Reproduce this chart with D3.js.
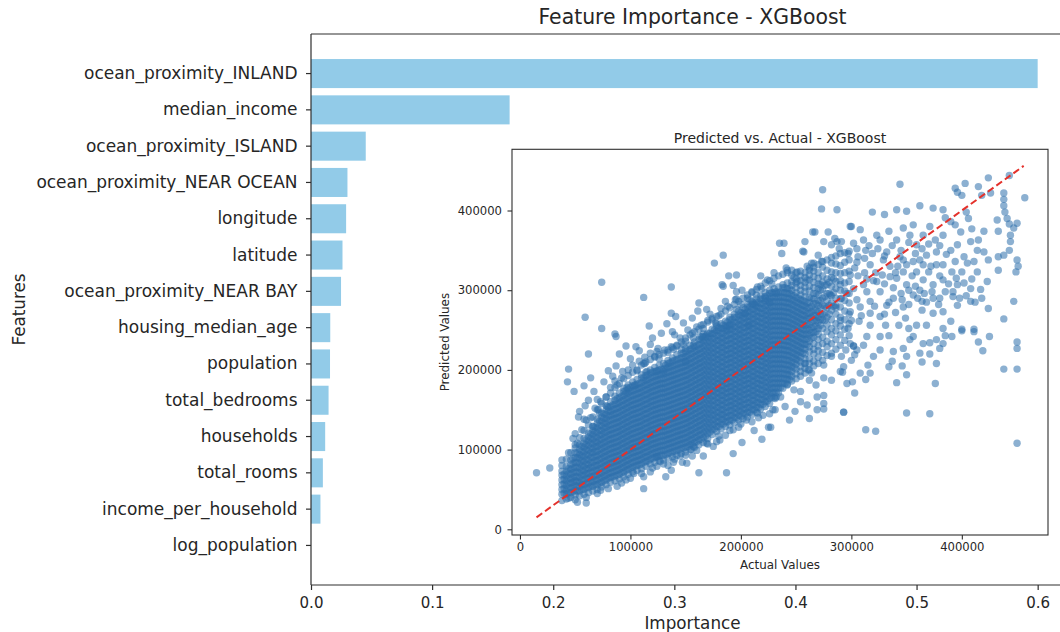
<!DOCTYPE html>
<html>
<head>
<meta charset="utf-8">
<script src="https://cdn.jsdelivr.net/npm/d3@7"></script>
<style>
  html, body { margin: 0; padding: 0; background: #ffffff; }
  svg { display: block; }
  text { font-family: "DejaVu Sans", sans-serif; fill: #262626; }
</style>
</head>
<body>
<svg id="chart" width="1060" height="632"></svg>
<script>
// ---------------- DATA ----------------
const features = [
  "ocean_proximity_INLAND", "median_income", "ocean_proximity_ISLAND",
  "ocean_proximity_NEAR OCEAN", "longitude", "latitude", "ocean_proximity_NEAR BAY",
  "housing_median_age", "population", "total_bedrooms", "households",
  "total_rooms", "income_per_household", "log_population"
];
const importances = [0.600, 0.164, 0.0452, 0.0301, 0.0290, 0.0260, 0.0248,
  0.0159, 0.0157, 0.0145, 0.0117, 0.0098, 0.0078, 0.0];
const importanceTicks = [0.0, 0.1, 0.2, 0.3, 0.4, 0.5, 0.6];

const mainTitle = "Feature Importance - XGBoost";
const mainXLabel = "Importance";
const mainYLabel = "Features";
const insetTitle = "Predicted vs. Actual - XGBoost";
const insetXLabel = "Actual Values";
const insetYLabel = "Predicted Values";

// scatter values in thousands of dollars
const valueTicksK = [0, 100, 200, 300, 400];
const valueTickLabels = ["0", "100000", "200000", "300000", "400000"];
const diagonalK = [15, 456];

// dense core: [actual, [predicted...]]
const coreColumnsK = [
  [38, [36,44,50,56,62,68,73,80]],
  [42, [38,44,49,55,61,67,73,79,88]],
  [46, [40,46,52,58,63,69,75,81,87,96]],
  [50, [37,43,49,55,61,66,72,78,84,90,96,106,120]],
  [54, [42,48,54,59,65,71,77,83,89,94,100,106,115]],
  [58, [44,50,56,62,68,73,79,85,91,97,103,108,114,124,138]],
  [62, [46,52,58,64,70,76,81,87,93,99,105,111,116,121,131]],
  [66, [48,54,60,66,72,78,84,90,96,101,107,113,119,124,129,141]],
  [70, [50,56,62,68,74,80,86,92,98,104,109,115,121,127,133,138,150]],
  [74, [53,59,65,71,77,83,89,95,101,107,113,119,124,130,136,141,146,158]],
  [78, [56,62,68,74,80,86,92,98,104,110,116,122,128,133,139,144,150,155,166]],
  [82, [59,65,71,77,83,89,95,101,107,113,119,125,131,137,143,148,154,160,171]],
  [86, [61,67,73,79,85,91,97,103,109,115,121,127,133,139,145,151,157,162,167,178]],
  [90, [63,69,75,81,87,93,99,105,111,117,123,129,135,141,147,153,159,165,171,183]],
  [94, [66,72,78,84,90,96,102,108,114,120,126,132,138,144,150,156,162,168,173,177,189]],
  [98, [69,75,81,87,93,99,105,111,117,123,129,135,141,147,153,159,165,171,176,181,193]],
  [102, [72,78,84,90,96,102,108,114,120,126,132,138,144,150,156,162,168,174,180,185,197]],
  [106, [74,80,86,92,98,104,110,116,122,128,134,140,146,152,158,164,170,176,182,188,200]],
  [110, [76,82,88,94,100,106,112,118,124,130,136,142,148,154,160,166,172,178,184,190,194,206]],
  [114, [79,85,91,97,103,109,115,121,127,133,139,145,151,157,163,169,175,181,187,193,197,210]],
  [118, [82,88,94,100,106,112,118,124,130,136,142,148,154,160,166,172,178,184,190,196,200,213]],
  [122, [84,90,96,102,108,114,120,126,132,138,144,150,156,162,168,174,180,186,192,198,203,216]],
  [126, [86,92,98,104,110,116,122,128,134,140,146,152,158,164,170,176,182,188,194,200,206,219]],
  [130, [87,93,99,105,111,117,123,129,135,141,147,153,159,165,171,177,183,189,195,201,208,221]],
  [134, [89,95,101,107,113,119,125,131,137,143,149,155,161,167,173,179,185,191,197,203,208,212,225]],
  [138, [91,97,103,109,115,121,127,133,139,145,151,157,163,169,175,181,187,193,199,205,211,215,228]],
  [142, [93,99,105,111,117,123,129,135,141,147,153,159,165,171,177,183,189,195,201,207,213,219,231]],
  [146, [95,101,107,113,119,125,131,137,143,149,155,161,167,173,179,185,191,197,203,209,215,221,235]],
  [150, [97,103,109,115,121,127,133,139,145,151,157,163,169,175,181,187,193,199,205,211,217,223,227,240]],
  [154, [100,106,112,118,124,130,136,142,148,154,160,166,172,178,184,190,196,202,208,214,220,226,231,244]],
  [158, [103,109,115,121,127,133,139,145,151,157,163,169,175,181,187,193,199,205,211,217,223,229,235,248]],
  [162, [106,112,118,124,130,136,142,148,154,160,166,172,178,184,190,196,202,208,214,220,226,232,238,251]],
  [166, [109,115,121,127,133,139,145,151,157,163,169,175,181,187,193,199,205,211,217,223,229,235,241,245,257]],
  [170, [114,120,126,132,138,144,150,156,162,168,174,180,186,192,198,204,210,216,222,228,234,240,246,260]],
  [174, [119,125,131,137,143,149,155,161,167,173,179,185,191,197,203,209,215,221,227,233,239,245,251,263]],
  [178, [123,129,135,141,147,153,159,165,171,177,183,189,195,201,207,213,219,225,231,237,243,249,255,267]],
  [182, [126,132,138,144,150,156,162,168,174,180,186,192,198,204,210,216,222,228,234,240,246,252,258,270]],
  [186, [129,135,141,147,153,159,165,171,177,183,189,195,201,207,213,219,225,231,237,243,249,255,261,274]],
  [190, [131,137,143,149,155,161,167,173,179,185,191,197,203,209,215,221,227,233,239,245,251,257,263,266,278]],
  [194, [134,140,146,152,158,164,170,176,182,188,194,200,206,212,218,224,230,236,242,248,254,260,266,270,282]],
  [198, [137,143,149,155,161,167,173,179,185,191,197,203,209,215,221,227,233,239,245,251,257,263,269,274,286]],
  [202, [139,145,151,157,163,169,175,181,187,193,199,205,211,217,223,229,235,241,247,253,259,265,271,278,290]],
  [206, [141,147,153,159,165,171,177,183,189,195,201,207,213,219,225,231,237,243,249,255,261,267,273,279,282,294]],
  [210, [144,150,156,162,168,174,180,186,192,198,204,210,216,222,228,234,240,246,252,258,264,270,276,282,286,297]],
  [214, [147,153,159,165,171,177,183,189,195,201,207,213,219,225,231,237,243,249,255,261,267,273,279,285,289,301]],
  [218, [151,157,163,169,175,181,187,193,199,205,211,217,223,229,235,241,247,253,259,265,271,277,283,289,293,305]],
  [222, [154,160,166,172,178,184,190,196,202,208,214,220,226,232,238,244,250,256,262,268,274,280,286,292,297,309]],
  [226, [158,164,170,176,182,188,194,200,206,212,218,224,230,236,242,248,254,260,266,272,278,284,290,296,300,312]],
  [230, [165,171,177,183,189,195,201,207,213,219,225,231,237,243,249,255,261,267,273,279,285,291,297,302,315]],
  [234, [171,177,183,189,195,201,207,213,219,225,231,237,243,249,255,261,267,273,279,285,291,297,304,318]],
  [238, [177,183,189,195,201,207,213,219,225,231,237,243,249,255,261,267,273,279,285,291,297,303,307,320]],
  [242, [182,188,194,200,206,212,218,224,230,236,242,248,254,260,266,272,278,284,290,296,302,309,322]],
  [246, [186,192,198,204,210,216,222,228,234,240,246,252,258,264,270,276,282,288,294,300,306,311,325]],
  [250, [189,195,201,207,213,219,225,231,237,243,249,255,261,267,273,279,285,291,297,303,309,314]],
  [254, [192,198,204,210,216,222,228,234,240,246,252,258,264,270,276,282,288,294,300,306,312,318]],
  [258, [196,202,208,214,220,226,232,238,244,250,256,262,268,274,280,286,292,298,304,310,316,322]],
  [262, [200,208,214,223,229,236,244,250,257,265,271,278,285,291,299,305,313,319,325]],
  [266, [205,211,220,226,233,241,247,254,262,268,275,283,289,296,303,310,317,324,329]],
  [270, [208,216,224,230,238,245,252,260,266,273,281,287,294,302,308,315,322,332]],
  [274, [212,222,233,241,252,263,270,281,290,301,310,318,329,336]],
  [278, [218,229,236,248,257,266,278,287,296,307,314,325,338]],
  [282, [221,233,244,252,263,275,284,293,305,316,323,334,341]],
  [286, [226,238,249,258,270,281,290,302,311,322,333,343]],
  [290, [231,244,255,266,279,289,300,312,321,331,346]],
  [294, [237,251,263,274,287,299,309,322,335,347]],
  [298, [243,258,270,284,296,311,324,338,349]]
];

// inner part of the band, between the columns above
const innerColumnsK = [
  [40, [45,51,57,63,69]],
  [44, [46,52,58,64,70,76]],
  [48, [47,53,59,65,71,77,83,89]],
  [52, [48,54,60,66,72,78,84,90,96]],
  [56, [50,56,62,68,74,80,86,92,98,104]],
  [60, [52,58,64,70,76,82,88,94,100,106,112]],
  [64, [54,60,66,72,78,84,90,96,102,108,114,120]],
  [68, [56,62,68,74,80,86,92,98,104,110,116,122,128]],
  [72, [58,64,70,76,82,88,94,100,106,112,118,124,130,136]],
  [76, [61,67,73,79,85,91,97,103,109,115,121,127,133,139,145]],
  [80, [64,70,76,82,88,94,100,106,112,118,124,130,136,142,148,153]],
  [84, [66,72,78,84,90,96,102,108,114,120,126,132,138,144,150,156]],
  [88, [68,74,80,86,92,98,104,110,116,122,128,134,140,146,152,158,164]],
  [92, [71,77,83,89,95,101,107,113,119,125,131,137,143,149,155,161,167]],
  [96, [74,80,86,92,98,104,110,116,122,128,134,140,146,152,158,164,170,174]],
  [100, [77,83,89,95,101,107,113,119,125,131,137,143,149,155,161,167,173,178]],
  [104, [79,85,91,97,103,109,115,121,127,133,139,145,151,157,163,169,175,181]],
  [108, [81,87,93,99,105,111,117,123,129,135,141,147,153,159,165,171,177,183]],
  [112, [84,90,96,102,108,114,120,126,132,138,144,150,156,162,168,174,180,186,190]],
  [116, [86,92,98,104,110,116,122,128,134,140,146,152,158,164,170,176,182,188,194]],
  [120, [89,95,101,107,113,119,125,131,137,143,149,155,161,167,173,179,185,191,197]],
  [124, [91,97,103,109,115,121,127,133,139,145,151,157,163,169,175,181,187,193,199]],
  [128, [93,99,105,111,117,123,129,135,141,147,153,159,165,171,177,183,189,195,201]],
  [132, [94,100,106,112,118,124,130,136,142,148,154,160,166,172,178,184,190,196,202,206]],
  [136, [96,102,108,114,120,126,132,138,144,150,156,162,168,174,180,186,192,198,204,209]],
  [140, [98,104,110,116,122,128,134,140,146,152,158,164,170,176,182,188,194,200,206,212]],
  [144, [100,106,112,118,124,130,136,142,148,154,160,166,172,178,184,190,196,202,208,214]],
  [148, [102,108,114,120,126,132,138,144,150,156,162,168,174,180,186,192,198,204,210,216,221]],
  [152, [104,110,116,122,128,134,140,146,152,158,164,170,176,182,188,194,200,206,212,218,224]],
  [156, [107,113,119,125,131,137,143,149,155,161,167,173,179,185,191,197,203,209,215,221,227]],
  [160, [110,116,122,128,134,140,146,152,158,164,170,176,182,188,194,200,206,212,218,224,230]],
  [164, [113,119,125,131,137,143,149,155,161,167,173,179,185,191,197,203,209,215,221,227,233,238]],
  [168, [117,123,129,135,141,147,153,159,165,171,177,183,189,195,201,207,213,219,225,231,237,242]],
  [172, [122,128,134,140,146,152,158,164,170,176,182,188,194,200,206,212,218,224,230,236,242,246]],
  [176, [126,132,138,144,150,156,162,168,174,180,186,192,198,204,210,216,222,228,234,240,246,250]],
  [180, [129,135,141,147,153,159,165,171,177,183,189,195,201,207,213,219,225,231,237,243,249,253]],
  [184, [132,138,144,150,156,162,168,174,180,186,192,198,204,210,216,222,228,234,240,246,252,256]],
  [188, [135,141,147,153,159,165,171,177,183,189,195,201,207,213,219,225,231,237,243,249,255,260]],
  [192, [137,143,149,155,161,167,173,179,185,191,197,203,209,215,221,227,233,239,245,251,257,263]],
  [196, [140,146,152,158,164,170,176,182,188,194,200,206,212,218,224,230,236,242,248,254,260,266]],
  [200, [142,148,154,160,166,172,178,184,190,196,202,208,214,220,226,232,238,244,250,256,262,268,272]],
  [204, [145,151,157,163,169,175,181,187,193,199,205,211,217,223,229,235,241,247,253,259,265,271,276]],
  [208, [147,153,159,165,171,177,183,189,195,201,207,213,219,225,231,237,243,249,255,261,267,273,279]],
  [212, [150,156,162,168,174,180,186,192,198,204,210,216,222,228,234,240,246,252,258,264,270,276,282]],
  [216, [153,159,165,171,177,183,189,195,201,207,213,219,225,231,237,243,249,255,261,267,273,279,285]],
  [220, [157,163,169,175,181,187,193,199,205,211,217,223,229,235,241,247,253,259,265,271,277,283,289]],
  [224, [161,167,173,179,185,191,197,203,209,215,221,227,233,239,245,251,257,263,269,275,281,287,293]],
  [228, [166,172,178,184,190,196,202,208,214,220,226,232,238,244,250,256,262,268,274,280,286,292,297]],
  [232, [172,178,184,190,196,202,208,214,220,226,232,238,244,250,256,262,268,274,280,286,292,298]],
  [236, [178,184,190,196,202,208,214,220,226,232,238,244,250,256,262,268,274,280,286,292,298]],
  [240, [183,189,195,201,207,213,219,225,231,237,243,249,255,261,267,273,279,285,291,297,303]],
  [244, [188,194,200,206,212,218,224,230,236,242,248,254,260,266,272,278,284,290,296,302]],
  [248, [203,209,215,221,227,233,239,245,251,257,263,269,275,281,287,293]],
  [252, [212,218,224,230,236,242,248,254,260,266,272,278,284,290]],
  [256, [221,227,233,239,245,251,257,263,269,275,281,287]],
  [260, [232,239,245,252,258,265,271,278,284]],
  [264, [240,247,253,260,266,273,280,290]],
  [268, [248,255,262,268,275,283,296]],
  [272, [256,263,270,278,287,300]],
  [276, [262,271,280,292,306]],
  [280, [270,281,296,310]],
  [284, [280,297,314]]
];

// points above the dense band, actual < 300k
const upperPointsK = [
  [74,310],[137,304],[112,291],[184,344],[176,334],[189,318],[196,319],[184,305],[193,306],
  [196,298],[162,284],[169,276],[182,277],[196,289],[210,298],[215,304],[219,302],[224,313],
  [235,359],[59,266],[74,252],[86,245],[117,255],[137,271],[141,267],[138,248],[156,265],
  [161,274],[174,265],[178,258],[160,254],[166,252],[187,252],[190,255],[207,256],[211,284],
  [214,294],[62,220],[44,201],[43,185],[49,173],[67,173],[62,162],[59,155],[53,141],[71,150],
  [79,154],[87,242],[105,229],[108,224],[87,205],[80,199],[106,199],[97,178],[104,180],[112,208],
  [115,198],[48,114],[50,102],[38,87],[44,96],[124,198],[130,198],[124,223],[131,225],[137,229],
  [140,244],[150,210],[157,231],[163,242],[169,244],[88,181],[54,148],[52,108],[56,125],[60,137],
  [66,129],[72,146],[195,288],[183,307],[177,259],[165,242],[157,240],[125,227],[139,226],
  [122,217],[113,208],[145,240],[148,232],[208,288],[222,290],[200,282],[213,281],[239,359],
  [237,346],[242,325],[246,319],[250,322],[257,348],[258,361],[267,373],[275,361],[282,357],
  [285,365],[291,361],[299,380],[289,352],[273,336],[266,334],[262,328],[270,344],[241,328],
  [251,323],[264,334],[256,349],[265,373],[279,373],[287,361],[274,426],[273,402],[287,401],
  [204,270],[226,285],[232,296],[228,308],[152,250],[146,226],[118,232],[100,214],[93,198],
  [76,185],[70,163],[84,192],[120,240],[128,246],[133,258],[148,259],[170,262],[186,286],
  [201,300],[218,318],[230,322],[90,220],[96,230],[64,190],[58,180],
  [64,140],[68,152],[73,160],[78,166],[82,178],[86,186],[92,190],[98,200],[102,206],[108,211],
  [113,216],[118,221],[126,214],[134,222],[142,230],[150,236],[156,246],[164,256],[172,270],
  [180,268],[188,280],[196,276],[206,290],[248,316],[254,324],[260,330]
];

// points below the dense band, actual < 320k
const lowerPointsK = [
  [15,71],[27,77],[52,34],[60,33],[132,66],[112,51],[147,84],[156,92],[162,71],[187,71],
  [193,95],[201,109],[219,113],[225,128],[212,124],[166,92],[127,85],[112,66],[103,70],
  [124,79],[139,84],[145,92],[137,74],[205,137],[220,143],[229,150],[231,164],[175,104],
  [181,112],[169,108],[193,125],[151,83],[157,104],[124,91],[88,54],[73,49],[44,39],[96,62],
  [118,72],[155,100],[186,118],[198,128],[210,135],[226,145],[216,140],[178,110],[134,80],
  [227,128],[231,150],[232,166],[240,154],[244,137],[249,148],[254,160],[260,156],[262,139],
  [269,150],[269,166],[275,151],[275,158],[275,168],[254,173],[268,181],[275,190],[282,187],
  [290,198],[293,204],[301,185],[303,171],[313,188],[315,206],[293,147],[248,175],[242,181],
  [262,187],[261,200],[264,196],[258,208],[275,206],[282,217],[291,217],[303,219],[295,225],
  [299,233],[302,230],[311,231],[305,225],[292,197],[300,212],[296,183],[308,196],[317,196],
  [320,217],[60,40],[70,45],[80,51],[92,58],[100,64],[110,70],[120,77],[130,82],[140,88],
  [150,93],[160,99],[170,107],[180,117],[190,124],[200,132],[215,146],[236,166]
];

// spread of points for actual >= 300k
const highPointsK = [
  [344,433],[394,428],[396,423],[403,434],[400,419],[415,430],[418,419],[424,441],[426,422],
  [443,444],[457,416],[438,422],[438,414],[438,406],[439,398],[441,390],[443,383],[450,384],
  [447,378],[432,388],[433,374],[444,369],[444,361],[443,350],[438,344],[450,338],[451,330],
  [449,323],[433,342],[433,325],[447,286],[424,277],[438,264],[417,301],[409,314],[402,309],
  [400,251],[411,251],[300,380],[319,398],[330,395],[341,401],[350,399],[362,406],[374,403],
  [383,401],[385,391],[404,398],[406,390],[394,382],[399,373],[409,377],[420,374],[415,363],
  [420,348],[424,338],[414,350],[411,336],[402,342],[394,336],[391,323],[383,313],[374,307],
  [365,313],[385,298],[374,290],[364,286],[356,294],[350,307],[341,315],[359,256],[374,271],
  [349,265],[343,256],[331,256],[326,267],[317,271],[308,279],[307,261],[297,252],[371,380],
  [365,369],[376,363],[377,348],[368,344],[359,357],[353,369],[356,382],[347,378],[341,363],
  [334,374],[326,363],[332,348],[344,342],[350,332],[335,330],[328,319],[317,332],[319,346],
  [311,363],[308,376],[323,369],[297,346],[302,359],[450,108],[313,125],[322,123],[350,146],
  [371,145],[293,147],[438,201],[450,201],[450,227],[450,235],[419,224],[415,235],[425,242],
  [411,248],[376,183],[350,194],[341,184],[346,205],[334,204],[337,211],[338,223],[326,225],
  [350,217],[347,227],[353,238],[362,221],[371,220],[371,234],[377,238],[380,227],[385,243],
  [302,230],[334,243],[326,242],[314,242],[400,249],[356,242],[365,233],[383,233],[391,242],
  [364,210],[377,208],[364,275],[383,273],[390,261],[408,286],[396,281],[383,252],[368,256],
  [352,252],[317,256],[299,273],[291,290],[281,294],[272,307],[260,313],[251,311],[302,302],
  [314,298],[326,298],[338,290],[347,279],[332,281],[317,286],[305,288],[290,307],[299,319],
  [311,307],[323,311],[335,317],[347,323],[359,323],[365,332],[356,336],[370,323],[377,332],
  [383,332],[390,350],[396,357],[383,369],[390,386],[408,361],[400,323],[405,334],[414,323],
  [423,311],[408,302],[396,307],[305,335],[312,322],[320,312],[338,303],[345,296],[362,300],
  [368,285],[379,282],[392,292],[355,318],[329,338],[342,330],[313,350],[306,342],[303,328],
  [321,280],[330,270],[340,272],[352,282],[296,296],[309,268],[300,262],[286,278],[290,262],
  [305,352],[312,340],[316,356],[324,352],[330,343],[337,356],[345,350],[352,360],[358,346],
  [364,352],[370,358],[380,356],[386,345],[362,338],[372,330],[380,318],[388,308],[395,315],
  [360,290],[352,300],[330,308],[322,322],[314,314],[306,318],[340,322],[347,338],[334,285],
  [346,288],[358,305],[366,296],[373,298],[380,290],[392,298],[398,290],[404,293],[412,285],
  [418,290]
];

// ---------------- CHART ----------------
const svg = d3.select("#chart");
const ink = "#262626";
const spine = "#2e2e2e";

// main axes geometry
const mainLeft = 311, mainTop = 34, mainBottom = 585, mainRight = 1074;
const x = d3.scaleLinear().domain([0, 0.63]).range([mainLeft, mainRight]);
const y = d3.scaleBand().domain(features).range([mainTop, mainBottom])
  .paddingInner(0.2).paddingOuter(0.69);

const main = svg.append("g");

main.selectAll("rect.bar")
  .data(features)
  .join("rect")
  .attr("class", "bar")
  .attr("x", x(0))
  .attr("y", d => y(d))
  .attr("width", (d, i) => x(importances[i]) - x(0))
  .attr("height", y.bandwidth())
  .attr("fill", "#92cbe8");

// x axis
const xAxis = main.append("g")
  .attr("transform", `translate(0,${mainBottom})`)
  .call(d3.axisBottom(x).tickValues(importanceTicks).tickFormat(d3.format(".1f"))
    .tickSize(5).tickSizeOuter(0).tickPadding(7));
xAxis.select(".domain").remove();
xAxis.selectAll(".tick line").attr("stroke", spine).attr("stroke-width", 1.2);
xAxis.selectAll(".tick text").attr("font-size", "15px").attr("fill", ink)
  .style("font-family", "DejaVu Sans");

// y axis
const yAxis = main.append("g")
  .attr("transform", `translate(${mainLeft},0)`)
  .call(d3.axisLeft(y).tickSize(5).tickSizeOuter(0).tickPadding(8.5));
yAxis.select(".domain").remove();
yAxis.selectAll(".tick line").attr("stroke", spine).attr("stroke-width", 1.2);
yAxis.selectAll(".tick text").attr("font-size", "17px").attr("fill", ink)
  .style("font-family", "DejaVu Sans");

// spines
main.append("line").attr("x1", mainLeft).attr("x2", mainLeft).attr("y1", mainTop).attr("y2", mainBottom)
  .attr("stroke", spine).attr("stroke-width", 1.2);
main.append("line").attr("x1", mainLeft).attr("x2", mainRight).attr("y1", mainBottom).attr("y2", mainBottom)
  .attr("stroke", spine).attr("stroke-width", 1.2);
main.append("line").attr("x1", mainLeft).attr("x2", mainRight).attr("y1", mainTop).attr("y2", mainTop)
  .attr("stroke", spine).attr("stroke-width", 1.2);

// titles / labels
svg.append("text").attr("x", (mainLeft + mainRight) / 2).attr("y", 24)
  .attr("text-anchor", "middle").attr("font-size", "20.4px").text(mainTitle);
svg.append("text").attr("x", (mainLeft + mainRight) / 2).attr("y", 629)
  .attr("text-anchor", "middle").attr("font-size", "16.8px").text(mainXLabel);
svg.append("text").attr("transform", `translate(25,${(mainTop + mainBottom) / 2}) rotate(-90)`)
  .attr("text-anchor", "middle").attr("font-size", "16.8px").text(mainYLabel);

// ---------------- INSET ----------------
const inL = 512, inR = 1048, inT = 149.3, inB = 535;
const sx = d3.scaleLinear().domain([-7.2, 478]).range([inL, inR]);
const sy = d3.scaleLinear().domain([-7.15, 476.8]).range([inB, inT]);

const inset = svg.append("g");
inset.append("rect").attr("x", inL).attr("y", inT).attr("width", inR - inL).attr("height", inB - inT)
  .attr("fill", "#ffffff");

inset.append("clipPath").attr("id", "insetClip")
  .append("rect").attr("x", inL).attr("y", inT).attr("width", inR - inL).attr("height", inB - inT);

const points = [];
coreColumnsK.forEach(([a, preds]) => preds.forEach(p => points.push([a, p])));
innerColumnsK.forEach(([a, preds]) => preds.forEach(p => points.push([a, p])));
upperPointsK.forEach(p => points.push(p));
lowerPointsK.forEach(p => points.push(p));
highPointsK.forEach(p => points.push(p));

const plot = inset.append("g").attr("clip-path", "url(#insetClip)");
plot.selectAll("circle")
  .data(points)
  .join("circle")
  .attr("cx", d => sx(d[0]))
  .attr("cy", d => sy(d[1]))
  .attr("r", 3.7)
  .attr("fill", "#2d70ac")
  .attr("fill-opacity", 0.55);

plot.append("line")
  .attr("x1", sx(diagonalK[0])).attr("y1", sy(diagonalK[0]))
  .attr("x2", sx(diagonalK[1])).attr("y2", sy(diagonalK[1]))
  .attr("stroke", "#e4312b").attr("stroke-width", 2)
  .attr("stroke-dasharray", "7,3.5");

const sxAxis = inset.append("g").attr("transform", `translate(0,${inB})`)
  .call(d3.axisBottom(sx).tickValues(valueTicksK).tickFormat((d, i) => valueTickLabels[i])
    .tickSize(4.5).tickSizeOuter(0).tickPadding(3.5));
sxAxis.select(".domain").remove();
sxAxis.selectAll(".tick line").attr("stroke", spine).attr("stroke-width", 1.1);
sxAxis.selectAll(".tick text").attr("font-size", "11.6px").attr("fill", ink)
  .style("font-family", "DejaVu Sans");

const syAxis = inset.append("g").attr("transform", `translate(${inL},0)`)
  .call(d3.axisLeft(sy).tickValues(valueTicksK).tickFormat((d, i) => valueTickLabels[i])
    .tickSize(4.5).tickSizeOuter(0).tickPadding(5.5));
syAxis.select(".domain").remove();
syAxis.selectAll(".tick line").attr("stroke", spine).attr("stroke-width", 1.1);
syAxis.selectAll(".tick text").attr("font-size", "11.6px").attr("fill", ink)
  .style("font-family", "DejaVu Sans");

inset.append("rect").attr("x", inL).attr("y", inT).attr("width", inR - inL).attr("height", inB - inT)
  .attr("fill", "none").attr("stroke", spine).attr("stroke-width", 1.1);

inset.append("text").attr("x", (inL + inR) / 2).attr("y", 143)
  .attr("text-anchor", "middle").attr("font-size", "14px").text(insetTitle);
inset.append("text").attr("x", (inL + inR) / 2).attr("y", 569)
  .attr("text-anchor", "middle").attr("font-size", "11.9px").text(insetXLabel);
inset.append("text").attr("transform", `translate(449,${(inT + inB) / 2}) rotate(-90)`)
  .attr("text-anchor", "middle").attr("font-size", "11.9px").text(insetYLabel);
</script>
</body>
</html>
